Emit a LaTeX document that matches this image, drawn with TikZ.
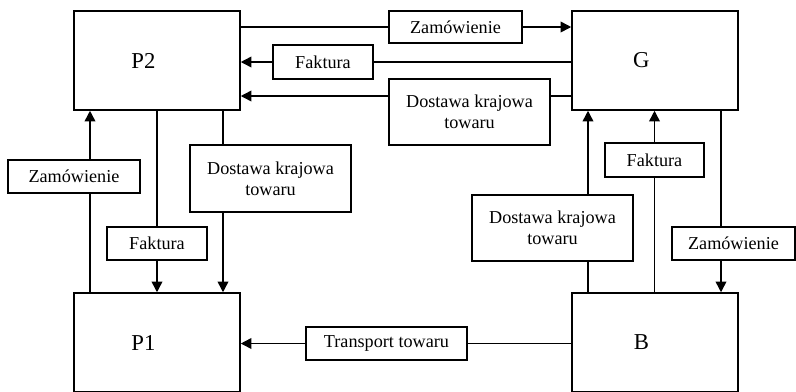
\documentclass[tikz,border=0pt]{standalone}
\usepackage{fontspec}
\setmainfont{Liberation Serif}
\usetikzlibrary{arrows.meta,calc}
\tikzset{
  >={Triangle[length=7pt,width=7pt]},
  sz/.style 2 args={minimum width=#1*0.66pt, minimum height=#2*0.66pt},
  unit/.style={draw, line width=1pt, inner sep=0pt,
    font=\fontsize{15}{18}\selectfont},
  doc/.style={draw, fill=white, line width=1pt, align=center, inner sep=2pt,
    font=\fontsize{12}{14}\selectfont},
  flow/.style={line width=1pt},
  flowa/.style={->, line width=1pt}
}
\newcommand{\lab}[1]{#1\hspace*{18pt}}

\begin{document}
\begin{tikzpicture}[x=0.66pt,y=-0.66pt]
  \clip (0,0) rectangle (796,391);

  % units
  \node[unit, sz={166}{99}] (p2) at (157,60.5)  {\lab{P2}};
  \node[unit, sz={166}{99}] (g)  at (655,60.5)  {\lab{G}};
  \node[unit, sz={166}{99}] (p1) at (157,342.5) {\lab{P1}};
  \node[unit, sz={166}{99}] (b)  at (655,342.5) {\lab{B}};

  % documents
  \node[doc, sz={133}{32}] (zamT)  at (455.5,27)    {Zamówienie};
  \node[doc, sz={100}{34}] (fakT)  at (323,62)      {Faktura};
  \node[doc, sz={161}{66}] (dosT)  at (469.5,112)   {Dostawa krajowa\\towaru};
  \node[doc, sz={132}{33}] (zamL)  at (74,176.5)    {Zamówienie};
  \node[doc, sz={100}{33}] (fakL)  at (157,243.5)   {Faktura};
  \node[doc, sz={161}{67}] (dosL)  at (270.5,178.5) {Dostawa krajowa\\towaru};
  \node[doc, sz={161}{66}] (dosR)  at (552.5,228)   {Dostawa krajowa\\towaru};
  \node[doc, sz={99}{34}]  (fakR)  at (654.5,160)   {Faktura};
  \node[doc, sz={123}{33}] (zamR)  at (733.5,243.5) {Zamówienie};
  \node[doc, sz={161}{33}] (trans) at (386.5,343.5) {Transport towaru};

  % line positions off the box centres
  \coordinate (yDT) at (0,96);
  \coordinate (xZL) at (90,0);
  \coordinate (xDL) at (223,0);
  \coordinate (xDR) at (588,0);
  \coordinate (xZR) at (721,0);

  % P2 <-> G
  \draw[flow]  (p2.east |- zamT) -- (zamT.west);
  \draw[flowa] (zamT.east) -- (g.west |- zamT);
  \draw[flow]  (g.west |- fakT) -- (fakT.east);
  \draw[flowa] (fakT.west) -- (p2.east |- fakT);
  \draw[flow]  (g.west |- yDT) -- (dosT.east |- yDT);
  \draw[flowa] (dosT.west |- yDT) -- (p2.east |- yDT);

  % P1 <-> P2
  \draw[flow]  (p1.north -| xZL) -- (zamL.south -| xZL);
  \draw[flowa] (zamL.north -| xZL) -- (p2.south -| xZL);
  \draw[flow]  (p2.south) -- (fakL.north);
  \draw[flowa] (fakL.south) -- (p1.north);
  \draw[flow]  (p2.south -| xDL) -- (dosL.north -| xDL);
  \draw[flowa] (dosL.south -| xDL) -- (p1.north -| xDL);

  % B <-> G
  \draw[flow]  (b.north -| xDR) -- (dosR.south -| xDR);
  \draw[flowa] (dosR.north -| xDR) -- (g.south -| xDR);
  \draw[flow]  (b.north -| fakR) -- (fakR.south);
  \draw[flowa] (fakR.north) -- (g.south -| fakR);
  \draw[flow]  (g.south -| xZR) -- (zamR.north -| xZR);
  \draw[flowa] (zamR.south -| xZR) -- (b.north -| xZR);

  % B -> P1
  \draw[flow]  (b.west |- trans) -- (trans.east);
  \draw[flowa] (trans.west) -- (p1.east |- trans);
\end{tikzpicture}
\end{document}
